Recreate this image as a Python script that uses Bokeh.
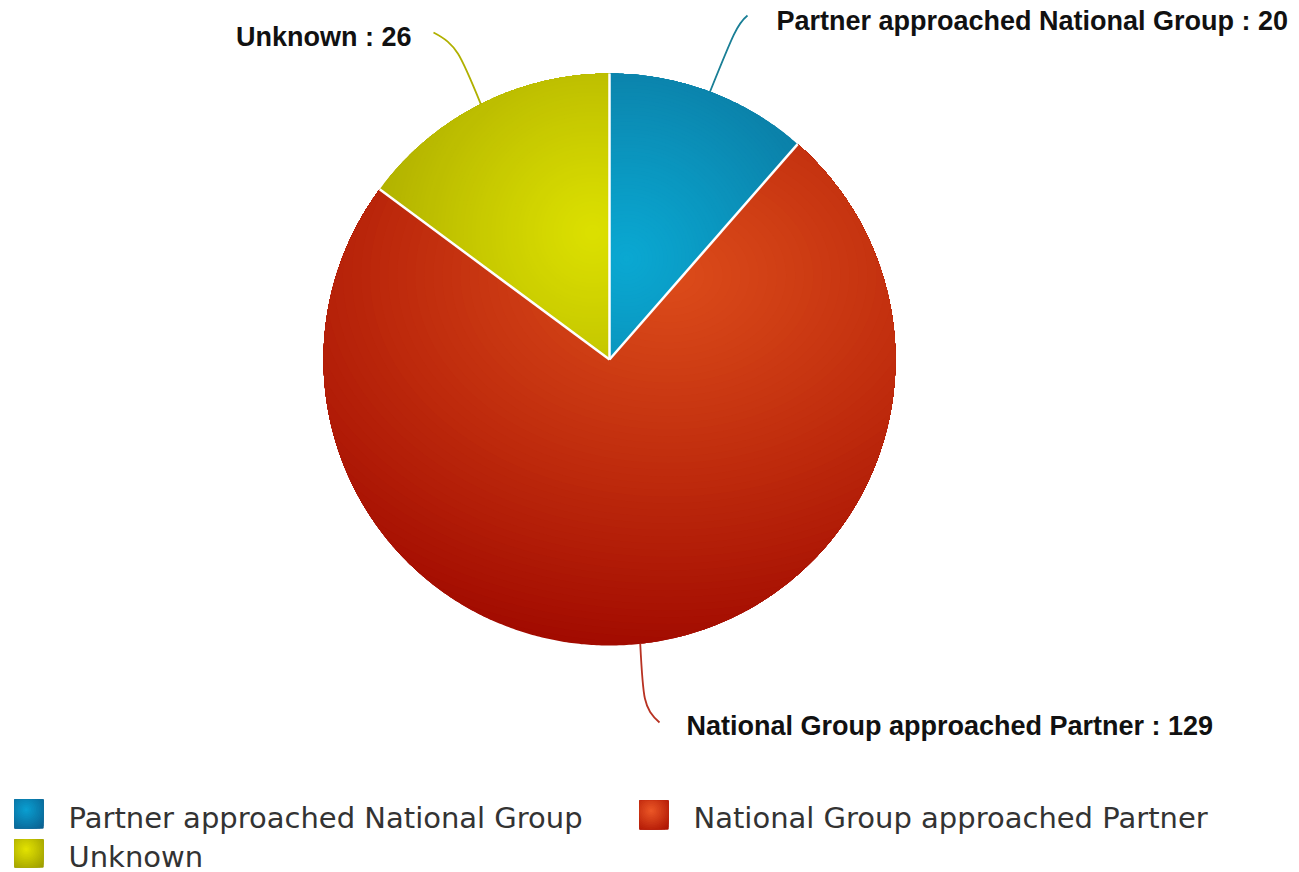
import math
import numpy as np
from bokeh.plotting import figure
from bokeh.models import Range1d, ColumnDataSource
from bokeh.core.properties import value
from bokeh.embed import file_html
from bokeh.resources import INLINE

# ---- data ----
categories = ["Partner approached National Group", "National Group approached Partner", "Unknown"]
counts = [20, 129, 26]

# ---- style ----
light_colors = ["#0aa8d2", "#dc4c1a", "#dce000"]
dark_colors = ["#0b80a8", "#a20b00", "#b2b200"]
line_colors = ["#1a7f96", "#b83222", "#b0b000"]
leg_light = ["#0aa2d4", "#ee5a28", "#e6e600"]
leg_dark = ["#0a5c8c", "#a80e00", "#989800"]

W, H = 1299, 872
p = figure(width=W, height=H, x_range=Range1d(0, W), y_range=Range1d(0, H),
           output_backend="svg", toolbar_location=None, min_border=0)
p.axis.visible = False
p.grid.visible = False
p.outline_line_color = None
p.background_fill_color = "white"
p.border_fill_color = "white"


def X(px):
    return px


def Y(py):
    return H - py


def hexrgb(c):
    c = c.lstrip("#")
    return [int(c[i:i + 2], 16) for i in (0, 2, 4)]


def mix(c1, c2, t):
    a, b = hexrgb(c1), hexrgb(c2)
    r = [int(round(a[i] + (b[i] - a[i]) * t)) for i in range(3)]
    return "#%02x%02x%02x" % tuple(r)


def clip_poly(subject, clipper, cc):
    out = list(subject)
    n = len(clipper)
    for i in range(n):
        if not out:
            break
        a = clipper[i]
        b = clipper[(i + 1) % n]
        ex, ey = b[0] - a[0], b[1] - a[1]
        sref = ex * (cc[1] - a[1]) - ey * (cc[0] - a[0])

        def side(q):
            return (ex * (q[1] - a[1]) - ey * (q[0] - a[0])) * sref

        inp = out
        out = []
        for j in range(len(inp)):
            cur = inp[j]
            prev = inp[j - 1]
            dc, dp = side(cur), side(prev)
            if dc >= 0:
                if dp < 0:
                    t = dp / (dp - dc)
                    out.append((prev[0] + t * (cur[0] - prev[0]), prev[1] + t * (cur[1] - prev[1])))
                out.append(cur)
            elif dp >= 0:
                t = dp / (dp - dc)
                out.append((prev[0] + t * (cur[0] - prev[0]), prev[1] + t * (cur[1] - prev[1])))
    return out


def shade(poly, hp, c_light, c_dark, n=48, gamma=1.0, ky=1.0):
    rmax = max(math.hypot(x - hp[0], (y - hp[1]) * ky) for x, y in poly) + 1
    xs, ys, cols = [], [], []
    angs = np.linspace(0, 2 * math.pi, 120, endpoint=False)
    for k in range(n):
        t = 1 - k / n
        r = rmax * t
        if k == 0:
            piece = poly
        else:
            circ = [(hp[0] + r * math.cos(a), hp[1] + r / ky * math.sin(a)) for a in angs]
            piece = clip_poly(poly, circ, hp)
        if len(piece) < 3:
            continue
        xs.append([X(q[0]) for q in piece])
        ys.append([Y(q[1]) for q in piece])
        cols.append(mix(c_light, c_dark, t ** gamma))
    return xs, ys, cols


# ---- pie geometry (page pixels) ----
CX, CY, R = 609, 359, 286
highlights = [(626, 258), (668, 275), (592, 232)]
aspect = [1.0, 1.35, 1.0]
total = float(sum(counts))
starts, ends, mids = [], [], []
acc = 0.0
for c in counts:
    a0 = 90 - acc / total * 360
    acc += c
    a1 = 90 - acc / total * 360
    starts.append(a0)
    ends.append(a1)
    mids.append((a0 + a1) / 2)

all_x, all_y, all_c = [], [], []
for i in range(len(counts)):
    a0, a1 = math.radians(starts[i]), math.radians(ends[i])
    nseg = max(40, int(abs(starts[i] - ends[i]) * 2))
    arc = [(CX + R * math.cos(a), CY - R * math.sin(a)) for a in np.linspace(a0, a1, nseg)]
    poly = [(CX, CY)] + arc
    xs, ys, cols = shade(poly, highlights[i], light_colors[i], dark_colors[i],
                         n=56, gamma=1.1, ky=aspect[i])
    all_x += xs
    all_y += ys
    all_c += cols

p.patches(xs="xs", ys="ys", fill_color="c", line_color=None,
          source=ColumnDataSource(dict(xs=all_x, ys=all_y, c=all_c)))

# white separators
sep_x0, sep_y0, sep_x1, sep_y1 = [], [], [], []
for a in starts:
    ar = math.radians(a)
    sep_x0.append(X(CX))
    sep_y0.append(Y(CY))
    sep_x1.append(X(CX + R * math.cos(ar)))
    sep_y1.append(Y(CY - R * math.sin(ar)))
p.segment(sep_x0, sep_y0, sep_x1, sep_y1, line_color="white", line_width=2.5)

# ---- leader lines and labels ----
knees = [(737, 23), (643, 708), (456, 44)]
tips = [(747, 15), (659, 722), (433, 32)]
label_pos = [(776, 20, "left"), (686, 725, "left"), (411, 36, "right")]
for i in range(len(counts)):
    am = math.radians(mids[i])
    ex, ey = CX + R * math.cos(am), CY - R * math.sin(am)
    kx, ky_ = knees[i]
    tx, ty = tips[i]
    p.bezier(x0=[X(ex)], y0=[Y(ey)], x1=[X(tx)], y1=[Y(ty)],
             cx0=[X(ex + 0.85 * (kx - ex))], cy0=[Y(ey + 0.85 * (ky_ - ey))],
             cx1=[X(kx)], cy1=[Y(ky_)],
             line_color=line_colors[i], line_width=1.8)
    lx, ly, al = label_pos[i]
    p.text(x=[X(lx)], y=[Y(ly)], text=["%s : %d" % (categories[i], counts[i])],
           text_font=value("Liberation Sans"), text_font_style="bold",
           text_font_size="27px", text_color="#111111",
           text_align=al, text_baseline="middle")

# ---- legend ----
leg_boxes = [(14, 799, 43, 828), (639, 800, 668, 829), (14, 839, 43, 867)]
leg_text_pos = [(68, 817), (693, 817), (68, 856)]
lx_all, ly_all, lc_all = [], [], []
for i in range(len(categories)):
    x0, y0, x1, y1 = leg_boxes[i]
    sq = [(x0, y0), (x1, y0), (x1, y1), (x0, y1)]
    hp = (x0 + 0.4 * (x1 - x0), y0 + 0.35 * (y1 - y0))
    xs, ys, cols = shade(sq, hp, leg_light[i], leg_dark[i], n=16, gamma=1.0)
    lx_all += xs
    ly_all += ys
    lc_all += cols
    tx, ty = leg_text_pos[i]
    p.text(x=[X(tx)], y=[Y(ty)], text=[categories[i]],
           text_font=value("DejaVu Sans"), text_font_size="29px", text_color="#333333",
           text_align="left", text_baseline="middle")
p.patches(xs="xs", ys="ys", fill_color="c", line_color=None,
          source=ColumnDataSource(dict(xs=lx_all, ys=ly_all, c=lc_all)))

open("out.html", "w").write(file_html(p, INLINE))
